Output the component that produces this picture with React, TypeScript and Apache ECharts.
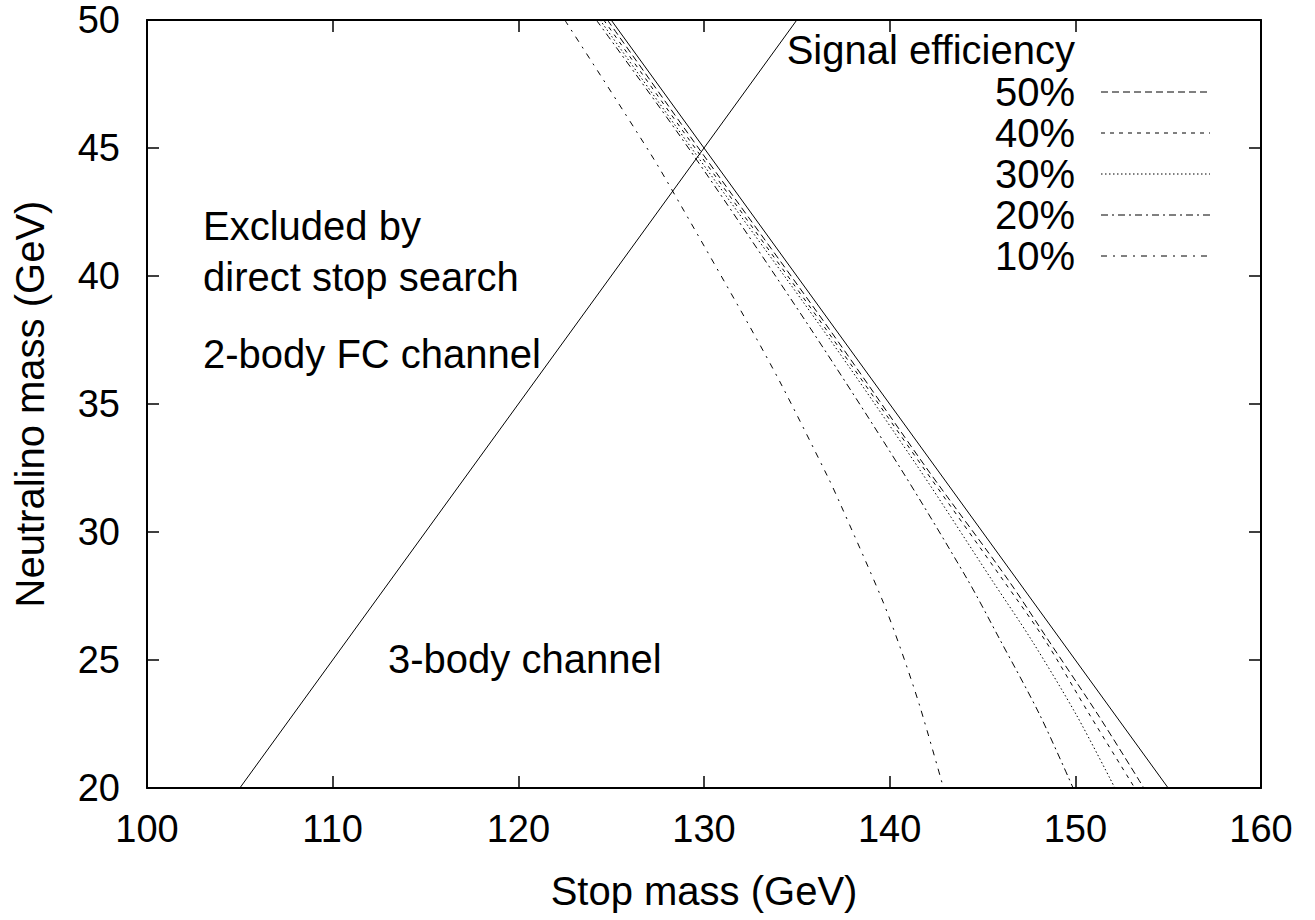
import React, { useEffect, useRef } from "react";
import * as echarts from "echarts";

// Kinematic limit lines (stop mass, neutralino mass)
const risingStop = [105, 135];
const risingNeutralino = [20, 50];
const fallingStop = [125, 155];
const fallingNeutralino = [50, 20];

// Signal efficiency contours
const eff10Neutralino = [50, 44.8, 42.7, 38.16, 35.74, 32.15, 31.13, 27.42, 25.52, 23.18, 20];
const eff10Stop = [122.5, 127.1, 128.8, 132.36, 134.18, 136.67, 137.32, 139.56, 140.55, 141.63, 142.9];

const eff20Neutralino = [50, 44.92, 37.89, 32.42, 28.13, 25.78, 22.85, 20];
const eff20Stop = [124.2, 129.24, 135.79, 140.64, 144.2, 145.95, 148.09, 149.88];

const eff30Neutralino = [50, 44.92, 37.89, 32.42, 28.13, 25.78, 22.85, 20];
const eff30Stop = [124.4, 129.4, 136.42, 141.63, 145.5, 147.64, 150.06, 152.13];

const eff40Neutralino = [50, 44.92, 37.89, 32.42, 28.13, 25.78, 22.85, 20];
const eff40Stop = [124.6, 129.6, 136.6, 141.9, 146.1, 148.36, 150.78, 153.2];

const eff50Neutralino = [50, 44.92, 37.89, 32.42, 28.13, 25.78, 22.85, 20];
const eff50Stop = [124.8, 129.78, 136.78, 142.06, 146.38, 148.54, 151.23, 153.69];

const legendLabels = ["50%", "40%", "30%", "20%", "10%"];
const xTicks = [100, 110, 120, 130, 140, 150, 160];
const yTicks = [20, 25, 30, 35, 40, 45, 50];

const FONT = "'Liberation Sans', Arial, Helvetica, sans-serif";

const pairs = (xs: number[], ys: number[]) => xs.map((x, i) => [x, ys[i]]);

const dashes: Record<string, number[]> = {
  "50%": [7, 4],
  "40%": [4, 5],
  "30%": [1.5, 2.5],
  "20%": [7, 4, 2, 4],
  "10%": [6, 6, 2, 6],
};

export default function App() {
  const ref = useRef<HTMLDivElement>(null);

  useEffect(() => {
    if (!ref.current) return;
    const chart = echarts.init(ref.current, undefined, { renderer: "svg" });

    const axisCommon = {
      axisLine: { show: true, lineStyle: { color: "#000", width: 2 } },
      axisTick: { show: true, inside: true, length: 12, lineStyle: { color: "#000", width: 1.5 } },
      splitLine: { show: false },
    };

    const lineSeries = (name: string, data: number[][], dash: number[] | "solid") => ({
      name,
      type: "line",
      data,
      smooth: 0.3,
      showSymbol: false,
      symbol: "none",
      xAxisIndex: 0,
      yAxisIndex: 0,
      lineStyle: { color: "#000", width: 1, type: dash },
      silent: true,
    });

    const effData = [
      pairs(eff50Stop, eff50Neutralino),
      pairs(eff40Stop, eff40Neutralino),
      pairs(eff30Stop, eff30Neutralino),
      pairs(eff20Stop, eff20Neutralino),
      pairs(eff10Stop, eff10Neutralino),
    ];

    const legendX = 1075;
    const legendYs = [92, 133, 174, 215, 256];

    const graphic: any[] = [
      {
        type: "text",
        x: 704,
        y: 891,
        style: { text: "Stop mass (GeV)", font: `40px ${FONT}`, fill: "#000", align: "center", verticalAlign: "middle", textAlign: "center", textVerticalAlign: "middle" },
      },
      {
        type: "text",
        x: 30,
        y: 404,
        rotation: Math.PI / 2,
        style: { text: "Neutralino mass (GeV)", font: `40px ${FONT}`, fill: "#000", align: "center", verticalAlign: "middle", textAlign: "center", textVerticalAlign: "middle" },
      },
      {
        type: "text",
        x: legendX,
        y: 50,
        style: { text: "Signal efficiency", font: `40px ${FONT}`, fill: "#000", align: "right", verticalAlign: "middle", textAlign: "right", textVerticalAlign: "middle" },
      },
      ...[
        ["Excluded by", 203, 226],
        ["direct stop search", 203, 277],
        ["2-body FC channel", 203, 354],
        ["3-body channel", 388, 659],
      ].map(([t, x, y]) => ({
        type: "text",
        x,
        y,
        style: { text: t, font: `40px ${FONT}`, fill: "#000", align: "left", verticalAlign: "middle", textAlign: "left", textVerticalAlign: "middle" },
      })),
    ];
    legendLabels.forEach((lab, i) => {
      graphic.push({
        type: "text",
        x: legendX,
        y: legendYs[i],
        style: { text: lab, font: `40px ${FONT}`, fill: "#000", align: "right", verticalAlign: "middle", textAlign: "right", textVerticalAlign: "middle" },
      });
      graphic.push({
        type: "line",
        shape: { x1: 1101, y1: legendYs[i], x2: 1210, y2: legendYs[i] },
        style: { stroke: "#000", lineWidth: 1, lineDash: dashes[lab] },
      });
    });

    chart.setOption({
      animation: false,
      backgroundColor: "#fff",
      grid: { left: 147, right: 54, top: 20, bottom: 132, containLabel: false },
      xAxis: [
        {
          type: "value",
          position: "bottom",
          min: xTicks[0],
          max: xTicks[xTicks.length - 1],
          interval: 10,
          ...axisCommon,
          axisLabel: { show: true, color: "#000", fontSize: 38, fontFamily: FONT, margin: 22 },
        },
        {
          type: "value",
          position: "top",
          min: xTicks[0],
          max: xTicks[xTicks.length - 1],
          interval: 10,
          ...axisCommon,
          axisLabel: { show: false },
        },
      ],
      yAxis: [
        {
          type: "value",
          position: "left",
          min: yTicks[0],
          max: yTicks[yTicks.length - 1],
          interval: 5,
          ...axisCommon,
          axisLabel: { show: true, color: "#000", fontSize: 38, fontFamily: FONT, margin: 27 },
        },
        {
          type: "value",
          position: "right",
          min: yTicks[0],
          max: yTicks[yTicks.length - 1],
          interval: 5,
          ...axisCommon,
          axisLabel: { show: false },
        },
      ],
      series: [
        { ...lineSeries("rising", pairs(risingStop, risingNeutralino), "solid"), smooth: false },
        { ...lineSeries("falling", pairs(fallingStop, fallingNeutralino), "solid"), smooth: false },
        ...legendLabels.map((lab, i) => lineSeries(lab, effData[i], dashes[lab])),
      ],
      graphic,
    });

    return () => chart.dispose();
  }, []);

  return (
    <div
      ref={ref}
      style={{ position: "fixed", left: 0, top: 0, width: 1315, height: 920, background: "#fff" }}
    />
  );
}
